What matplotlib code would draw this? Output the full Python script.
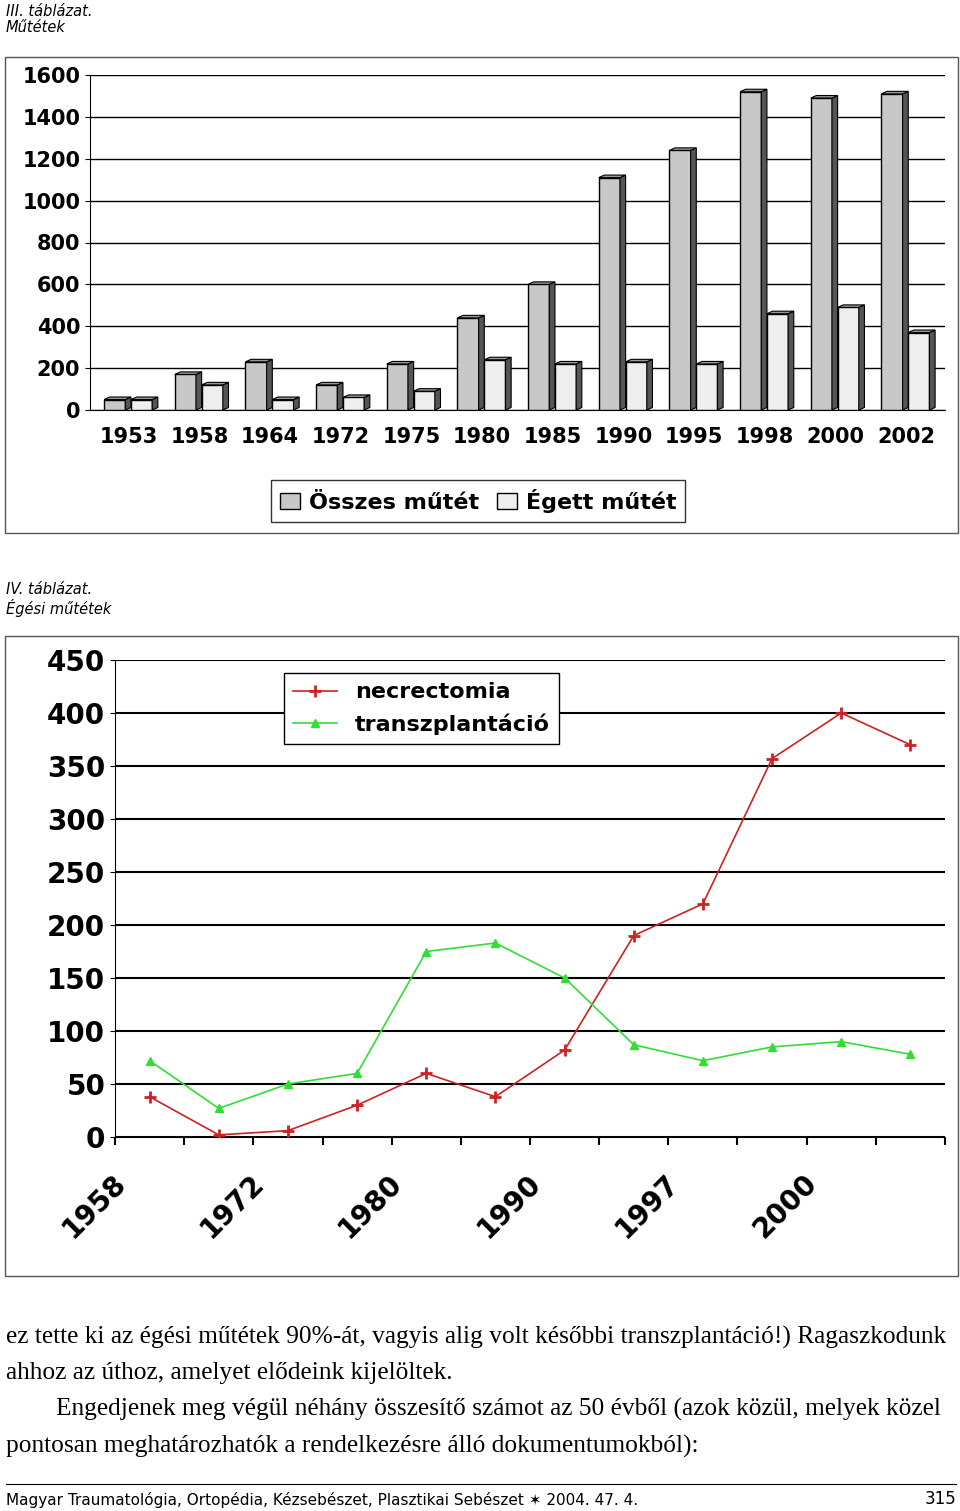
import matplotlib
matplotlib.use("Agg")
import matplotlib.pyplot as plt
from matplotlib.patches import Rectangle
import numpy as np

years1 = ["1953","1958","1964","1972","1975","1980","1985","1990","1995","1998","2000","2002"]
osszes = [50,170,230,120,220,440,600,1110,1240,1520,1490,1510]
egett = [50,120,50,60,90,240,220,230,220,460,490,370]

necro = [38,2,6,30,60,38,82,190,220,357,400,370]
transz = [72,27,50,60,175,183,150,87,72,85,90,78]
xlabels2 = ["1958","1972","1980","1990","1997","2000"]

W, H = 960, 1511
fig = plt.figure(figsize=(9.6, 15.11), dpi=100)

def ax_px(x0, y0, x1, y1, **kw):
    return fig.add_axes([x0/W, 1-y1/H, (x1-x0)/W, (y1-y0)/H], **kw)

def frame(x0, y0, x1, y1):
    fig.patches.append(Rectangle((x0/W, 1-y1/H), (x1-x0)/W, (y1-y0)/H,
                                 transform=fig.transFigure, fill=False, ec="#555555", lw=1))

fig.text(6/W, 1-12/H, "III. táblázat.", fontsize=10.5, style="italic", va="center")
fig.text(6/W, 1-27/H, "Műtétek", fontsize=10.5, style="italic", va="center")
frame(5, 57, 958, 533)

ax1 = ax_px(90, 75, 945, 410)
x = np.arange(len(years1))
w = 0.3
for xi, a, b in zip(x, osszes, egett):
    for off, v, c in [(-0.2, a, "#c8c8c8"), (0.18, b, "#eeeeee")]:
        ax1.bar(xi+off, v, w, color=c, edgecolor="black", lw=1, zorder=3)
        ax1.add_patch(plt.Polygon([[xi+off+w/2, 0], [xi+off+w/2+0.08, 12],
                                   [xi+off+w/2+0.08, v+12], [xi+off+w/2, v]],
                                  closed=True, fc="#555555", ec="black", lw=0.8, zorder=3))
        ax1.add_patch(plt.Polygon([[xi+off-w/2, v], [xi+off-w/2+0.08, v+12],
                                   [xi+off+w/2+0.08, v+12], [xi+off+w/2, v]],
                                  closed=True, fc="#999999", ec="black", lw=0.8, zorder=3))
ax1.set_ylim(0, 1600)
ax1.set_xlim(-0.55, 11.55)
ax1.set_yticks(range(0, 1601, 200))
ax1.yaxis.grid(True, color="black", lw=1, zorder=0)
ax1.set_xticks(x)
ax1.set_xticklabels(years1, fontsize=15, fontweight="bold")
ax1.tick_params(axis="y", labelsize=15)
for t in ax1.get_yticklabels(): t.set_fontweight("bold")
ax1.tick_params(axis="x", length=0, pad=12)
for s in ["top", "right"]: ax1.spines[s].set_visible(False)
leg = fig.legend(handles=[Rectangle((0,0),1,1,fc="#c8c8c8",ec="black"),
                          Rectangle((0,0),1,1,fc="#eeeeee",ec="black")],
                 labels=["Összes műtét", "Égett műtét"], ncol=2,
                 loc="center", bbox_to_anchor=(478/W, 1-501/H),
                 prop={"size":16, "weight":"bold"}, fancybox=False,
                 edgecolor="black", handlelength=0.9, columnspacing=0.8, handletextpad=0.4)

fig.text(6/W, 1-589/H, "IV. táblázat.", fontsize=10.5, style="italic", va="center")
fig.text(6/W, 1-608/H, "Égési műtétek", fontsize=10.5, style="italic", va="center")
frame(5, 636, 958, 1276)

ax2 = ax_px(115, 660, 945, 1137)
xp = np.arange(len(necro)) + 0.5
ax2.plot(xp, necro, color="#cc2222", marker="+", ms=8, mew=2, lw=1.2, label="necrectomia", zorder=3)
ax2.plot(xp, transz, color="#33dd33", marker="^", ms=6, lw=1.2, label="transzplantáció", zorder=3)
ax2.set_xlim(0, 12)
ax2.set_ylim(0, 450)
ax2.set_yticks(range(0, 451, 50))
ax2.yaxis.grid(True, color="black", lw=1.5, zorder=0)
ax2.tick_params(axis="y", labelsize=20)
for t in ax2.get_yticklabels(): t.set_fontweight("bold")
ax2.set_xticks(np.arange(0, 12.01, 1))
ax2.set_xticklabels([])
ax2.tick_params(axis="x", length=6, width=1.5)
for s in ["top", "right"]: ax2.spines[s].set_visible(False)
for i, lab in enumerate(xlabels2):
    ax2.text(-0.3 + 2*i, -30, lab, rotation=45, fontsize=20, fontweight="bold",
             ha="center", va="top", rotation_mode="default", clip_on=False)
ax2.legend(loc="upper left", bbox_to_anchor=(0.19, 0.995), prop={"size":16, "weight":"bold"},
           fancybox=False, edgecolor="black", framealpha=1)

body = [
    (1337, "ez tette ki az égési műtétek 90%-át, vagyis alig volt későbbi transzplantáció!) Ragaszkodunk", 6),
    (1373, "ahhoz az úthoz, amelyet elődeink kijelöltek.", 6),
    (1409, "Engedjenek meg végül néhány összesítő számot az 50 évből (azok közül, melyek közel", 56),
    (1446, "pontosan meghatározhatók a rendelkezésre álló dokumentumokból):", 6),
]
for y, t, x0 in body:
    fig.text(x0/W, 1-y/H, t, fontsize=18.3, family="Liberation Serif", va="center")
fig.add_artist(plt.Line2D([6/W, 956/W], [1-1484/H]*2, color="black", lw=0.8))
fig.text(6/W, 1-1500/H, "Magyar Traumatológia, Ortopédia, Kézsebészet, Plasztikai Sebészet ✶ 2004. 47. 4.",
         fontsize=11, va="center")
fig.text(956/W, 1-1499/H, "315", fontsize=12, ha="right", va="center")

fig.savefig("out.png", dpi=100)
